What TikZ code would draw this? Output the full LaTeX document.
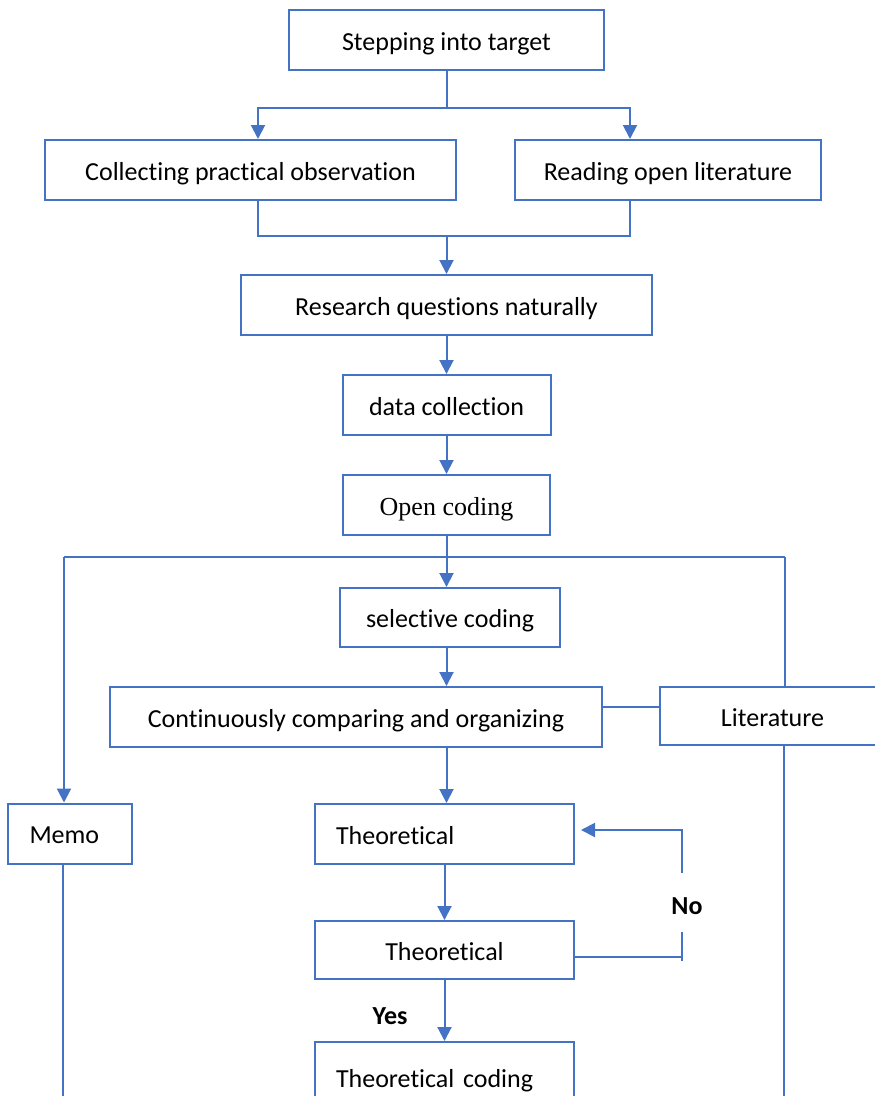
\documentclass[tikz,border=0pt]{standalone}
\usepackage{fontspec}
\setmainfont{Carlito}[Ligatures=NoCommon]
\newfontfamily\timesfont{Liberation Serif}
\usetikzlibrary{arrows.meta}
\definecolor{flowblue}{HTML}{4472C4}
\begin{document}
\begin{tikzpicture}[x=1pt,y=-1pt,
  box/.style={draw=flowblue, line width=2pt, minimum height=60pt, inner sep=0pt,
    text height=20pt, text depth=0pt, font=\fontsize{26}{30}\selectfont},
  leftbox/.style={box, text width=217pt, inner xsep=21pt, align=left},
  link/.style={draw=flowblue, line width=2pt},
  arr/.style={link, -{Triangle[width=14pt,length=14pt]}},
  tag/.style={font=\fontsize{26}{30}\selectfont\bfseries}]
\useasboundingbox (0,0) rectangle (875,1096);
\clip (0,0) rectangle (875,1096);

% boxes
\node[box, minimum width=315pt] (step) at (446.5,40) {Stepping into target};
\node[box, minimum width=411pt] (collect) at (250.5,170) {Collecting practical observation};
\node[box, minimum width=306pt] (read) at (668,170) {Reading open literature};
\node[box, minimum width=411pt] (rq) at (446.5,305) {Research questions naturally};
\node[box, minimum width=208pt] (data) at (446.5,405) {data collection};
\node[box, minimum width=207pt] (open) at (446.5,505) {\timesfont Open coding};
\node[box, minimum width=220pt, minimum height=59pt] (sel) at (450,617.5) {selective coding};
\node[box, minimum width=492pt] (cont) at (356,717) {Continuously comparing and organizing};
\node[box, minimum width=225pt, minimum height=58pt] (lit) at (772.5,716) {Literature};
\node[box, text width=80pt, inner xsep=22pt, align=left] (memo) at (69.5,833.5) {Memo};
\node[leftbox, minimum height=60pt] (th1) at (444.5,834) {Theoretical};
\node[box, minimum width=259pt, minimum height=58pt] (th2) at (444.5,950) {Theoretical};
\node[leftbox, minimum height=70pt] (thc) at (444.5,1077) {Theoretical coding};

% branching below the first box
\coordinate (b1) at (446.5,108);
\coordinate (cL) at (258,108);
\coordinate (cR) at (630,108);
\draw[link] (step.south) -- (b1);
\draw[arr] (b1) -- (cL) -- (cL |- collect.north);
\draw[arr] (b1) -- (cR) -- (cR |- read.north);

% merging into the research questions
\coordinate (mL) at (258,236);
\coordinate (mR) at (630,236);
\coordinate (m) at (446.5,236);
\draw[link] (mL |- collect.south) -- (mL) -- (mR) -- (mR |- read.south);
\draw[arr] (m) -- (m |- rq.north);

\draw[arr] (rq.south) -- (data.north);
\draw[arr] (data.south) -- (open.north);

% distribution bar under open coding
\coordinate (bar) at (446.5,557);
\coordinate (barL) at (64,557);
\coordinate (barR) at (785,557);
\draw[link] (open.south) -- (bar);
\draw[link] (barL) -- (barR);
\draw[arr] (bar) -- (bar |- sel.north);
\draw[arr] (barL) -- (barL |- memo.north);
\draw[link] (barR) -- (barR |- lit.north);

\draw[arr] (bar |- sel.south) -- (bar |- cont.north);
\coordinate (jn) at (0,707);
\draw[link] (cont.east |- jn) -- (lit.west |- jn);
\draw[arr] (bar |- cont.south) -- (bar |- th1.north);
\draw[arr] (th1.south) -- (th2.north);
\draw[arr] (th2.south) -- (thc.north);
\node[tag] (yes) at (390,1016) {Yes};

% feedback loop
\coordinate (fbBot) at (682,957);
\coordinate (fbTail) at (682,961);
\coordinate (fbLo) at (682,932);
\coordinate (fbHi) at (682,873);
\coordinate (fbTop) at (682,830);
\draw[link] (th2.east |- fbBot) -- (fbBot);
\draw[link] (fbTail) -- (fbLo);
\draw[arr, shorten >=6pt] (fbHi) -- (fbTop) -- (th1.east |- fbTop);
\node[tag] (no) at (687,906) {No};

% long side lines
\coordinate (memoEnd) at (63,1096);
\coordinate (litEnd) at (784,1096);
\draw[link] (memoEnd |- memo.south) -- (memoEnd);
\draw[link] (litEnd |- lit.south) -- (litEnd);
\end{tikzpicture}
\end{document}
